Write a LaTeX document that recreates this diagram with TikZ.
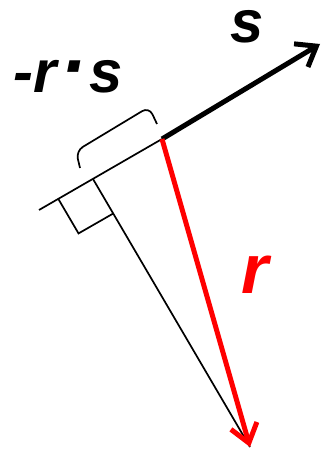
\documentclass[tikz,border=0pt]{standalone}
\usepackage{graphicx}
\usepackage{fontspec}
\setmainfont{Liberation Sans}
\usetikzlibrary{arrows.meta,calc}

\tikzset{
  vec/.style={line width=5bp, -{Straight Barb[length=18bp,width=27bp]}},
  guide/.style={line width=1.7bp},
  lab/.style={font=\fontsize{60}{60}\selectfont\bfseries\itshape, inner sep=0pt, anchor=base}
}

\begin{document}
\begin{tikzpicture}[x=1bp,y=-1bp]
    \useasboundingbox (0,0) rectangle (322,450);

    % ================= POINTS =================
    \coordinate (O) at (162,139);
    \coordinate (S) at (320,44);
    \coordinate (R) at (250,447);
    \coordinate (L) at (39,210);
    \coordinate (F) at (93,179);

    % Base line and drop to the tip of r
    \draw[guide] (L) -- (O);
    \draw[guide] (F) -- (R);

    % Right angle mark
    \coordinate (A) at ($(F)!40bp!(L)$);
    \coordinate (C) at ($(F)!40bp!(R)$);
    \draw[guide] (A) -- ($(A)+(C)-(F)$) -- (C);

    % Bracket over the projection
    \draw[guide, rounded corners=8bp] (80,168) -- (76,151) -- (149,107) -- (157,124);

    % ================= VECTORS =================
    \draw[vec] (O) -- (S);
    \draw[vec, red] (O) -- (R);

    % Labels
    \node[lab] (slab) at (247,43) {s};
    \node[lab] (projlab) at (68,93) {-r\hspace{4bp}\scalebox{1.3}{·}\hspace{3bp}s};
    \node[lab, text=red, font=\fontsize{70}{70}\selectfont\bfseries\itshape] (rlab) at (255,293) {r};
\end{tikzpicture}
\end{document}
